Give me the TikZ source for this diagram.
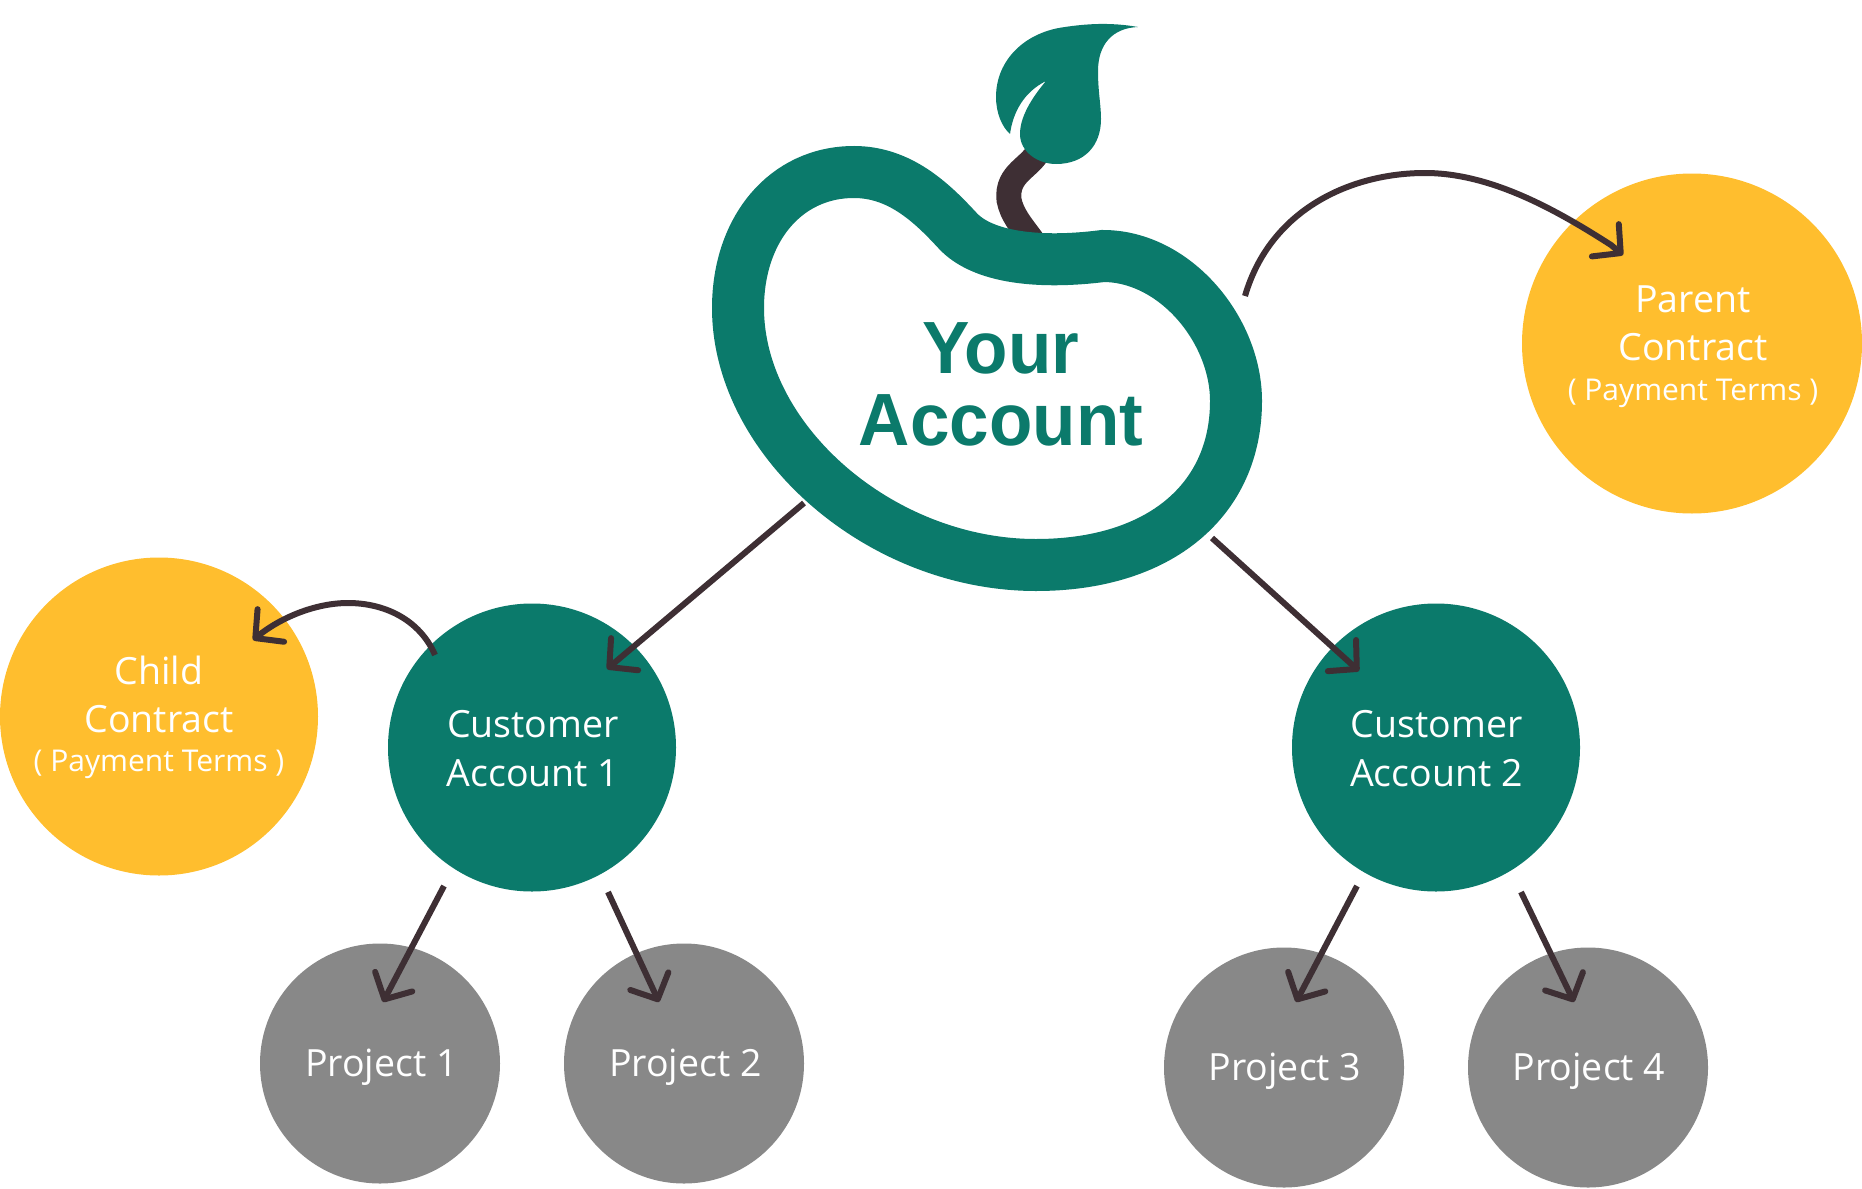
\documentclass[tikz,border=0pt]{standalone}
\usepackage{fontspec}
\setmainfont{Open Sans}
\newfontfamily\headfont[FakeStretch=0.96]{Liberation Sans}
\usetikzlibrary{arrows.meta}
\definecolor{teal1}{HTML}{0B7A6B}
\definecolor{gold1}{HTML}{FFBE2E}
\definecolor{gray1}{HTML}{888888}
\definecolor{dark1}{HTML}{3E2F34}
\tikzset{
  x=1pt,y=-1pt,
  disc/.style={circle,draw=none,inner sep=0pt,minimum size=#1},
  txt/.style={text=white,align=center,inner sep=0pt,font=\fontsize{37.5}{49}\selectfont},
  sub/.style={font=\fontsize{30}{40}\selectfont},
  lnk/.style={draw=dark1,line width=6pt,-{Straight Barb[length=20pt,width=42pt,line width=6pt,round]}},
}
\begin{document}
\begin{tikzpicture}
\useasboundingbox (0,0) rectangle (1862,1188);
% circles
\node[disc=340pt,fill=gold1] (parent) at (1692,343.5) {};
\node[disc=318pt,fill=gold1] (child) at (159,716.5) {};
\node[disc=288pt,fill=teal1] (cust1) at (532,747.5) {};
\node[disc=288pt,fill=teal1] (cust2) at (1436,747.5) {};
\node[disc=240pt,fill=gray1] (p1) at (380,1063.5) {};
\node[disc=240pt,fill=gray1] (p2) at (684,1063.5) {};
\node[disc=240pt,fill=gray1] (p3) at (1284,1067.5) {};
\node[disc=240pt,fill=gray1] (p4) at (1588,1067.5) {};
% stem
\draw[dark1,line width=25pt] (1040,148) .. controls (1032,168) and (1006,172) .. (1009,200) .. controls (1012,215) and (1021,225) .. (1032,240);
% bean
\draw[teal1,line width=52pt] (738,308) .. controls (738,230) and (785,172) .. (854,172)
  .. controls (900,172) and (932,203) .. (957,230)
  .. controls (982,258) and (1040,264) .. (1103,256)
  .. controls (1175,256) and (1236,330) .. (1236,401)
  .. controls (1236,500) and (1160,565) .. (1036,565)
  .. controls (880,565) and (738,440) .. (738,308) -- cycle;
% leaf
\fill[teal1] (1138,27) .. controls (1110,22) and (1085,24) .. (1065,27)
  .. controls (1025,32) and (996,60) .. (996,97)
  .. controls (996,113) and (1002,127) .. (1010,134)
  .. controls (1013,112) and (1024,92) .. (1046,81)
  .. controls (1030,100) and (1020,118) .. (1020,134)
  .. controls (1020,152) and (1038,164) .. (1056,164)
  .. controls (1085,164) and (1101,145) .. (1101,119)
  .. controls (1101,105) and (1098,92) .. (1098,71)
  .. controls (1098,45) and (1112,28) .. (1138,27) -- cycle;
% texts
\node[align=center,inner sep=0pt,text=teal1,font=\headfont\bfseries\fontsize{74}{72}\selectfont] (your) at (1001,384.5) {Your\\Account};
\node[txt] (parentt) at (1693,323.5) {Parent\\[-1.5pt]Contract};
\node[txt,sub] (parents) at (1693,393.5) {( Payment Terms )};
\node[txt] (childt) at (159,694.5) {Child\\[-1.5pt]Contract};
\node[txt,sub] (childs) at (159,764) {( Payment Terms )};
\node[txt] (c1t) at (533,748.5) {Customer\\[-0.5pt]Account 1};
\node[txt] (c2t) at (1436.5,748.5) {Customer\\[-0.5pt]Account 2};
\node[txt] (p1t) at (381.5,1067.5) {Project 1};
\node[txt] (p2t) at (685.5,1067.5) {Project 2};
\node[txt] (p3t) at (1285,1071.5) {Project 3};
\node[txt] (p4t) at (1589,1071.5) {Project 4};
% connector ends
\coordinate (a1s) at (804,503); \coordinate (a1e) at (607,669);
\coordinate (a2s) at (1212,538); \coordinate (a2e) at (1359,671);
\coordinate (a3s) at (444,886); \coordinate (a3e) at (383,1002);
\coordinate (a4s) at (608,892); \coordinate (a4e) at (659,1002);
\coordinate (a5s) at (1357,886); \coordinate (a5e) at (1296,1002);
\coordinate (a6s) at (1521,892); \coordinate (a6e) at (1574,1002);
\coordinate (a7s) at (1245,296); \coordinate (a7e) at (1623,255);
\coordinate (a8s) at (435,655); \coordinate (a8e) at (253,640);
\draw[lnk] (a1s) -- (a1e);
\draw[lnk] (a2s) -- (a2e);
\draw[lnk] (a3s) -- (a3e);
\draw[lnk] (a4s) -- (a4e);
\draw[lnk] (a5s) -- (a5e);
\draw[lnk] (a6s) -- (a6e);
\draw[lnk] (a7s) .. controls (1270,210) and (1350,173) .. (1425,173) .. controls (1490,173) and (1555,209) .. (1611,245) -- (a7e);
\draw[lnk] (a8s) .. controls (420,620) and (385,603) .. (348,603) .. controls (315,603) and (280,618) .. (a8e);
\end{tikzpicture}
\end{document}
